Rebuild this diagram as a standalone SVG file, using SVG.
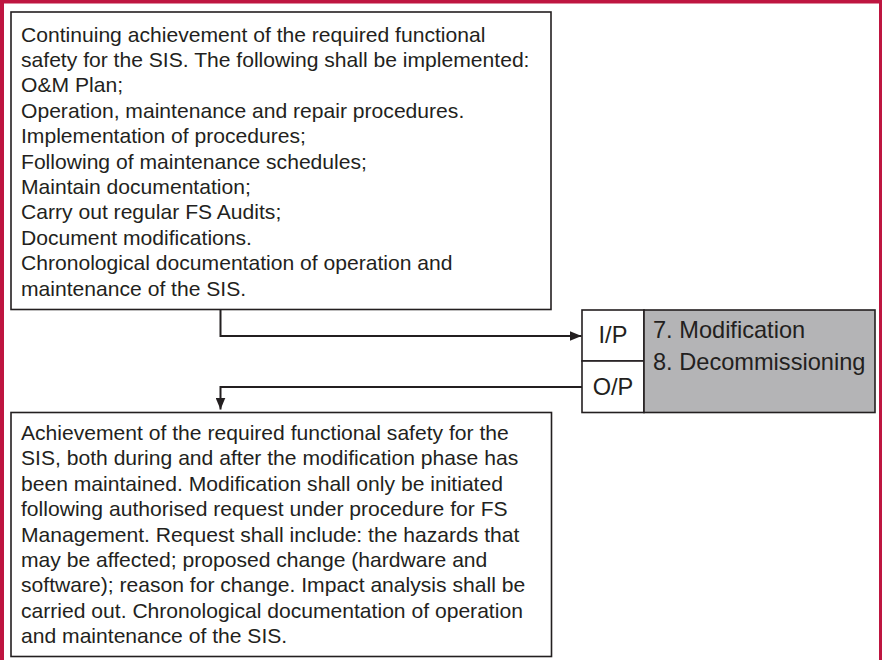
<svg xmlns="http://www.w3.org/2000/svg" width="882" height="660" viewBox="0 0 882 660">
  <defs>
    <style>
      .box { fill: #ffffff; stroke: #231f20; stroke-width: 1.6; }
      .proc { fill: #b4b4b6; stroke: #231f20; stroke-width: 1.6; }
      .txt { font-family: "Liberation Sans", Arial, sans-serif; font-size: 21.1px; fill: #231f20; }
      .big { font-family: "Liberation Sans", Arial, sans-serif; font-size: 23.6px; fill: #231f20; }
      .conn { fill: none; stroke: #231f20; stroke-width: 2; }
    </style>
    <marker id="arrow" viewBox="0 0 12 10" refX="12" refY="5" markerWidth="12" markerHeight="10" markerUnits="userSpaceOnUse" orient="auto">
      <path d="M0,0 L12,5 L0,10 Z" fill="#231f20"/>
    </marker>
  </defs>
  <rect x="0" y="0" width="882" height="660" fill="#ffffff"/>
  <!-- red frame -->
  <rect x="0" y="0" width="882" height="3.5" fill="#be1540"/>
  <rect x="0" y="0" width="4" height="660" fill="#be1540"/>
  <rect x="879" y="0" width="3" height="660" fill="#be1540"/>

  <g id="input-box">
    <rect class="box" x="11" y="12" width="540" height="297.5"/>
    <text class="txt" x="21" y="41.5">
      <tspan x="21" y="41.5">Continuing achievement of the required functional</tspan>
      <tspan x="21" y="66.9">safety for the SIS. The following shall be implemented:</tspan>
      <tspan x="21" y="92.3">O&amp;M Plan;</tspan>
      <tspan x="21" y="117.7">Operation, maintenance and repair procedures.</tspan>
      <tspan x="21" y="143.1">Implementation of procedures;</tspan>
      <tspan x="21" y="168.5">Following of maintenance schedules;</tspan>
      <tspan x="21" y="193.9">Maintain documentation;</tspan>
      <tspan x="21" y="219.3">Carry out regular FS Audits;</tspan>
      <tspan x="21" y="244.7">Document modifications.</tspan>
      <tspan x="21" y="270.1">Chronological documentation of operation and</tspan>
      <tspan x="21" y="295.5">maintenance of the SIS.</tspan>
    </text>
  </g>

  <g id="phase-box">
    <rect class="box" x="582" y="310" width="62" height="51"/>
    <rect class="box" x="582" y="361" width="62" height="51.5"/>
    <rect class="proc" x="644" y="310" width="231" height="102.5"/>
    <text class="big" x="613" y="343" text-anchor="middle">I/P</text>
    <text class="big" x="613" y="394.5" text-anchor="middle">O/P</text>
    <text class="big" x="653" y="338">7. Modification</text>
    <text class="big" x="653" y="370">8. Decommissioning</text>
  </g>

  <g id="output-box">
    <rect class="box" x="11" y="412.5" width="540.5" height="244"/>
    <text class="txt" x="21" y="440">
      <tspan x="21" y="440">Achievement of the required functional safety for the</tspan>
      <tspan x="21" y="465.4">SIS, both during and after the modification phase has</tspan>
      <tspan x="21" y="490.8">been maintained. Modification shall only be initiated</tspan>
      <tspan x="21" y="516.2">following authorised request under procedure for FS</tspan>
      <tspan x="21" y="541.6">Management. Request shall include: the hazards that</tspan>
      <tspan x="21" y="567">may be affected; proposed change (hardware and</tspan>
      <tspan x="21" y="592.4">software); reason for change. Impact analysis shall be</tspan>
      <tspan x="21" y="617.8">carried out. Chronological documentation of operation</tspan>
      <tspan x="21" y="643.2">and maintenance of the SIS.</tspan>
    </text>
  </g>

  <g id="connectors">
    <path class="conn" d="M220.5,309.5 V336 H581.5" marker-end="url(#arrow)"/>
    <path class="conn" d="M582,387 H220.5 V409.5" marker-end="url(#arrow)"/>
  </g>
</svg>
